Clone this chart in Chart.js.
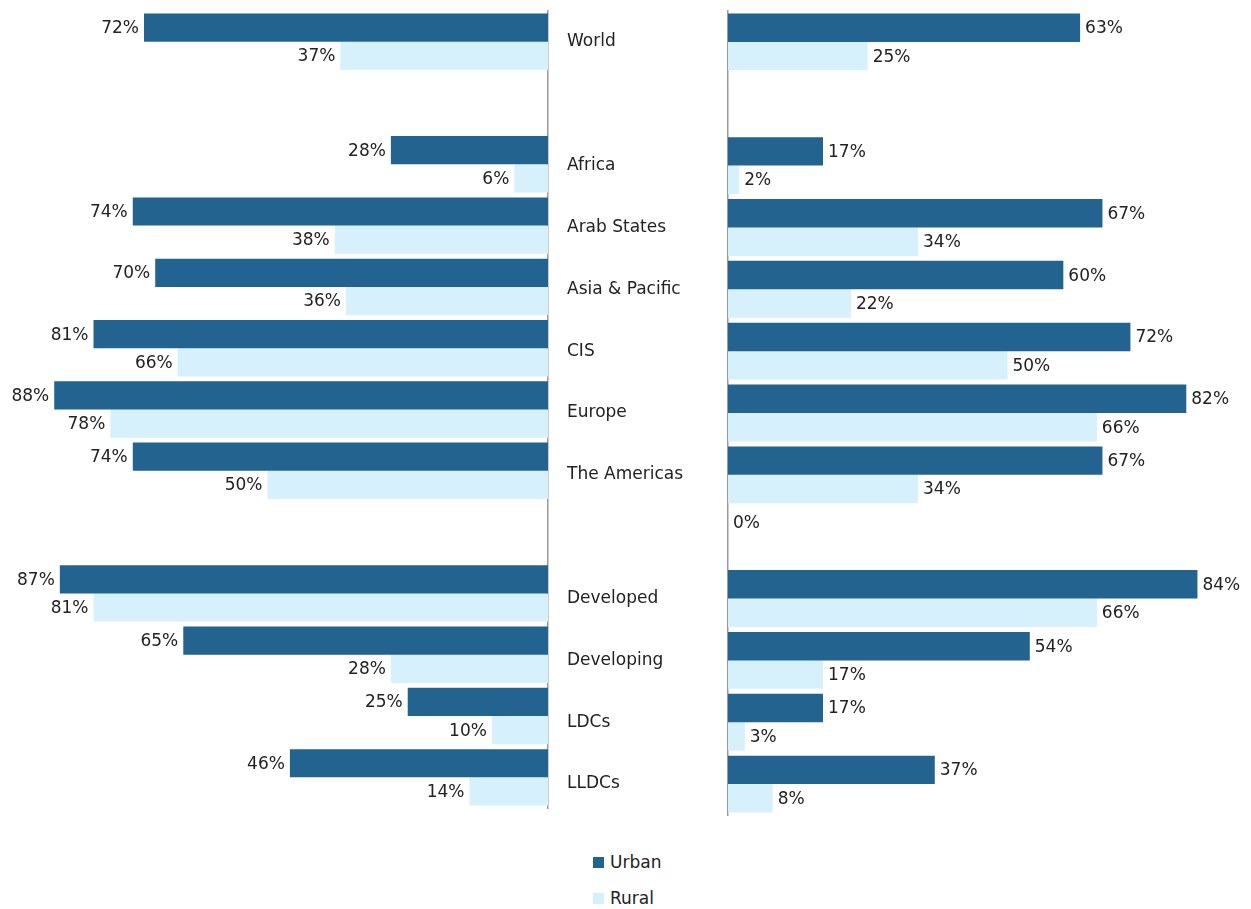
<!DOCTYPE html>
<html>
<head>
<meta charset="utf-8">
<script src="https://cdn.jsdelivr.net/npm/chart.js@4/dist/chart.umd.min.js"></script>
<style>
  body { margin: 0; background: #fff; width: 1251px; height: 909px; position: relative; overflow: hidden; font-family: "DejaVu Sans", sans-serif; }
  #leftWrap { position: absolute; left: 0; top: 0; width: 560px; height: 830px; }
  #rightWrap { position: absolute; left: 548px; top: 0; width: 703px; height: 830px; }
  .legend { position: absolute; left: 593px; font-size: 17px; color: #222; line-height: 18px; }
  .legend span { display: inline-block; width: 11px; height: 11px; margin-right: 6px; vertical-align: 0px; }
</style>
</head>
<body>
<div id="leftWrap"><canvas id="leftChart"></canvas></div>
<div id="rightWrap"><canvas id="rightChart"></canvas></div>
<div class="legend" style="top:853px"><span style="background:#22638F"></span>Urban</div>
<div class="legend" style="top:889px"><span style="background:#D6F0FC"></span>Rural</div>
<script>
const categories = ['World', '', 'Africa', 'Arab States', 'Asia & Pacific', 'CIS', 'Europe', 'The Americas', '', 'Developed', 'Developing', 'LDCs', 'LLDCs'];
const leftUrban = [72, null, 28, 74, 70, 81, 88, 74, null, 87, 65, 25, 46];
const leftRural = [37, null, 6, 38, 36, 66, 78, 50, null, 81, 28, 10, 14];
const rightUrban = [63, null, 17, 67, 60, 72, 82, 67, 0, 84, 54, 17, 37];
const rightRural = [25, null, 2, 34, 22, 50, 66, 34, null, 66, 17, 3, 8];

const urbanColor = '#22638F';
const ruralColor = '#D6F0FC';
const font = { family: '"DejaVu Sans", sans-serif', size: 17 };

// draw "NN%" at the end of every bar
const valueLabels = {
  id: 'valueLabels',
  afterDatasetsDraw(chart, args, opts) {
    const ctx = chart.ctx;
    ctx.save();
    ctx.font = font.size + 'px ' + font.family;
    ctx.fillStyle = '#222';
    ctx.textBaseline = 'middle';
    chart.data.datasets.forEach((ds, i) => {
      chart.getDatasetMeta(i).data.forEach((bar, j) => {
        const v = ds.data[j];
        if (v === null || v === undefined) return;
        if (opts.side === 'left') {
          ctx.textAlign = 'right';
          ctx.fillText(v + '%', bar.x - 5, bar.y + 1);
        } else {
          ctx.textAlign = 'left';
          ctx.fillText(v + '%', bar.x + 5, bar.y + 1);
        }
      });
    });
    ctx.restore();
  }
};

function datasets(urban, rural) {
  return [
    { label: 'Urban', data: urban, backgroundColor: urbanColor, categoryPercentage: 0.92, barPercentage: 1 },
    { label: 'Rural', data: rural, backgroundColor: ruralColor, categoryPercentage: 0.92, barPercentage: 1 }
  ];
}

new Chart(document.getElementById('leftChart'), {
  type: 'bar',
  data: { labels: categories, datasets: datasets(leftUrban, leftRural) },
  options: {
    indexAxis: 'y',
    responsive: true,
    maintainAspectRatio: false,
    animation: false,
    layout: { padding: { left: 43, right: 11, top: 11, bottom: 22 } },
    plugins: { legend: { display: false }, tooltip: { enabled: false }, valueLabels: { side: 'left' } },
    scales: {
      x: { reverse: true, min: 0, max: 90, display: false },
      y: {
        position: 'right',
        grid: { display: false, drawTicks: false },
        border: { display: true, color: '#999', width: 1.5 },
        ticks: { display: false },
        afterFit(axis) { axis.width = 1; }
      }
    }
  },
  plugins: [valueLabels]
});

new Chart(document.getElementById('rightChart'), {
  type: 'bar',
  data: { labels: categories, datasets: datasets(rightUrban, rightRural) },
  options: {
    indexAxis: 'y',
    responsive: true,
    maintainAspectRatio: false,
    animation: false,
    layout: { padding: { left: 19, right: 20, top: 11, bottom: 15 } },
    plugins: { legend: { display: false }, tooltip: { enabled: false }, valueLabels: { side: 'right' } },
    scales: {
      x: { min: 0, max: 90, display: false },
      y: {
        position: 'left',
        grid: { display: false, drawTicks: false },
        border: { display: true, color: '#999', width: 1.5 },
        ticks: { color: '#222', font: font, crossAlign: 'far', padding: 0 },
        afterFit(axis) { axis.width = 161; }
      }
    }
  },
  plugins: [valueLabels]
});
</script>
</body>
</html>
